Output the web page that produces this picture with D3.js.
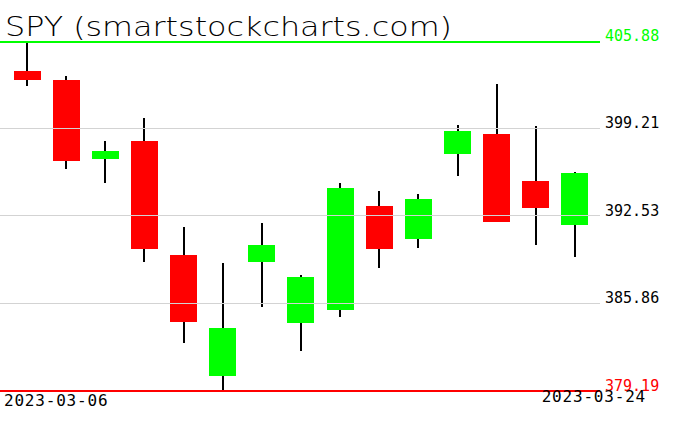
<!DOCTYPE html>
<html>
<head>
<meta charset="utf-8">
<script src="https://cdn.jsdelivr.net/npm/d3@7"></script>
<style>
  html, body { margin: 0; padding: 0; background: #fff; }
  svg { display: block; }
</style>
</head>
<body>
<svg id="chart" width="676" height="431"></svg>
<script>
const title = "SPY (smartstockcharts.com)";
const dates = ["2023-03-06","2023-03-07","2023-03-08","2023-03-09","2023-03-10",
               "2023-03-13","2023-03-14","2023-03-15","2023-03-16","2023-03-17",
               "2023-03-20","2023-03-21","2023-03-22","2023-03-23","2023-03-24"];
const opens  = [403.57, 402.88, 396.86, 398.22, 389.53, 380.28, 388.99, 384.31, 385.30, 393.25, 390.75, 397.25, 398.77, 395.16, 391.80];
const highs  = [405.88, 403.18, 398.22, 399.97, 391.64, 388.89, 391.95, 387.95, 395.01, 394.40, 394.14, 399.44, 402.57, 399.36, 395.85];
const lows   = [402.44, 396.10, 395.03, 388.99, 382.80, 379.19, 385.55, 382.19, 384.79, 388.53, 390.06, 395.56, 392.00, 390.29, 389.38];
const closes = [402.88, 396.71, 397.45, 389.99, 384.41, 383.95, 390.27, 387.82, 394.62, 389.96, 393.78, 398.98, 392.05, 393.12, 395.77];
const tickValues = [379.19, 385.86, 392.53, 399.21, 405.88];
const tickLabels = ["379.19", "385.86", "392.53", "399.21", "405.88"];
const tickColors = ["#ff0000", "#000000", "#000000", "#000000", "#00ff00"];
const gridColors = ["#ff0000", "#d3d3d3", "#d3d3d3", "#d3d3d3", "#00ff00"];

const svg = d3.select("#chart");
const plotRight = 600;

const x = d3.scaleBand().domain(dates).range([1, 601]).paddingInner(0.31).paddingOuter(0.32);
const y = d3.scaleLinear().domain([379.19, 405.88]).range([390, 40.7]);

const candles = dates.map((d, i) => ({date: d, o: opens[i], h: highs[i], l: lows[i], c: closes[i]}));

// title
svg.append("text")
  .attr("x", 5).attr("y", 36)
  .attr("font-family", "'DejaVu Sans ExtraLight', 'DejaVu Sans', sans-serif")
  .attr("font-weight", 200)
  .attr("font-size", 27)
  .attr("textLength", 447)
  .attr("lengthAdjust", "spacingAndGlyphs")
  .attr("fill", "#000")
  .text(title);

const g = svg.append("g");

// wicks
g.selectAll("line.wick").data(candles).join("line")
  .attr("class", "wick")
  .attr("x1", d => Math.round(x(d.date) + x.bandwidth() / 2))
  .attr("x2", d => Math.round(x(d.date) + x.bandwidth() / 2))
  .attr("y1", d => y(d.h))
  .attr("y2", d => y(d.l))
  .attr("stroke", "#000")
  .attr("stroke-width", 2)
  .attr("shape-rendering", "crispEdges");

// bodies
g.selectAll("rect.body").data(candles).join("rect")
  .attr("class", "body")
  .attr("x", d => Math.round(x(d.date)))
  .attr("width", Math.round(x.bandwidth()))
  .attr("y", d => y(Math.max(d.o, d.c)))
  .attr("height", d => Math.max(1, Math.abs(y(d.o) - y(d.c))))
  .attr("fill", d => d.c >= d.o ? "#00ff00" : "#ff0000")
  .attr("shape-rendering", "crispEdges");

// grid lines (drawn over candles) as 1px-high filled rects
const ticks = tickValues.map((v, i) => ({v, label: tickLabels[i], color: tickColors[i], grid: gridColors[i]}));
svg.append("g").selectAll("rect").data(ticks).join("rect")
  .attr("x", 0).attr("width", plotRight)
  .attr("y", d => Math.round(y(d.v)))
  .attr("height", d => d.grid === "#d3d3d3" ? 1 : 2)
  .attr("fill", d => d.grid)
  .attr("shape-rendering", "crispEdges");

// tick labels
svg.append("g").selectAll("text").data(ticks).join("text")
  .attr("x", 605)
  .attr("y", d => y(d.v) + 0.5)
  .attr("fill", d => d.color)
  .attr("font-family", "'DejaVu Sans Mono', monospace")
  .attr("font-size", 15)
  .text(d => d.label);

// date labels
svg.append("text")
  .attr("x", 4).attr("y", 406)
  .attr("font-family", "'DejaVu Sans Mono', monospace")
  .attr("font-size", 16)
  .attr("letter-spacing", 0.8)
  .attr("fill", "#000")
  .text(dates[0]);
svg.append("text")
  .attr("x", 646).attr("y", 401.5)
  .attr("text-anchor", "end")
  .attr("font-family", "'DejaVu Sans Mono', monospace")
  .attr("font-size", 16)
  .attr("letter-spacing", 0.8)
  .attr("fill", "#000")
  .text(dates[dates.length - 1]);
</script>
</body>
</html>
